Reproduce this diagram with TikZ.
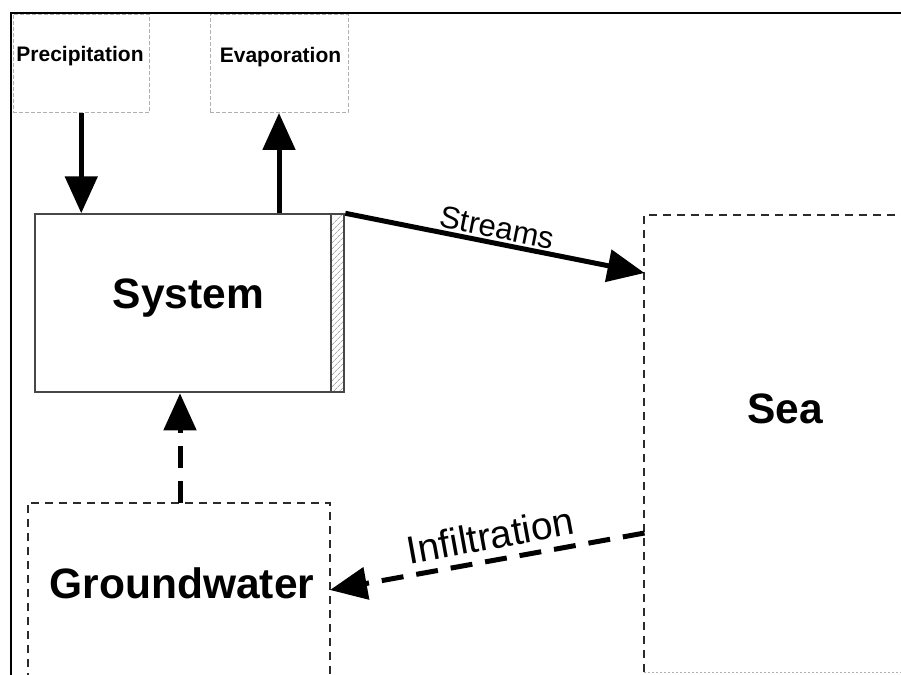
\documentclass[tikz,border=0pt]{standalone}
\usepackage{fontspec}
\setmainfont{Liberation Sans}
\usetikzlibrary{arrows.meta,patterns.meta}
\definecolor{boxgray}{HTML}{474747}
\definecolor{dashgray}{HTML}{2B2B2B}
\definecolor{faintgray}{HTML}{B0B0B0}
\tikzset{
  frameline/.style={line width=2pt,black},
  faintbox/.style={draw=faintgray,line width=0.9pt,dash pattern=on 4pt off 2pt,inner sep=0pt},
  sysbox/.style={draw=boxgray,line width=2pt,inner sep=0pt},
  darkdash/.style={draw=dashgray,line width=1.8pt,dash pattern=on 8pt off 6pt},
  faintdot/.style={draw=faintgray,line width=0.9pt,dash pattern=on 2pt off 2pt},
  flowarrow/.style={line width=5pt,black,-{Triangle[length=37pt,width=32pt]}},
  dasharrow/.style={flowarrow,dash pattern=on 22pt off 13pt},
  smalllabel/.style={font=\bfseries\fontsize{21}{25}\selectfont,anchor=base,inner sep=0pt},
  biglabel/.style={font=\bfseries\fontsize{42.5}{50}\selectfont,anchor=base,inner sep=0pt},
  flowlabel/.style={anchor=base,inner sep=0pt},
}
\begin{document}
\begin{tikzpicture}[x=1pt,y=-1pt]
\clip (0,0) rectangle (901,674);
\fill[white] (0,0) rectangle (901,674);
% outer frame
\draw[frameline] (11,680) -- (11,13) -- (910,13);
% Precipitation / Evaporation boxes
\node[faintbox,minimum width=136.5pt,minimum height=98pt] (prec) at (81.25,63.5) {};
\node[faintbox,minimum width=138pt,minimum height=98pt] (evap) at (279,63.5) {};
\node[smalllabel] (precT) at (80,62) {Precipitation};
\node[smalllabel] (evapT) at (280.5,63) {Evaporation};
% System box
\node[sysbox,minimum width=309.3pt,minimum height=178pt] (sys) at (189.65,303.3) {};
\node[sysbox,pattern={Lines[angle=45,distance=4pt,line width=0.6pt]},pattern color=gray,
      minimum width=13.6pt,minimum height=178pt] (strip) at (337.5,303.3) {};
\node[biglabel] (sysT) at (188.5,308) {System};
% Sea box
\node[minimum width=275.5pt,minimum height=457pt,inner sep=0pt] (sea) at (782.25,443.5) {};
\draw[darkdash] (sea.south west) -- (sea.north west) -- (sea.north east);
\draw[faintdot] (sea.south west) -- (sea.south east);
\node[biglabel] (seaT) at (785,423) {Sea};
% Groundwater box
\node[minimum width=302pt,minimum height=220pt,inner sep=0pt] (gw) at (179,613) {};
\draw[darkdash] (gw.south west) -- (gw.north west) -- (gw.north east) -- (gw.south east);
\node[biglabel] (gwT) at (182,598) {Groundwater};
% connector end points
\coordinate (strS) at (sys.north east);
\coordinate (strE) at (644.5,273);
\coordinate (infS) at (644.5,533);
\coordinate (infE) at (330,590);
% arrows
\draw[flowarrow] (prec.south) -- (prec.south |- sys.north);
\draw[flowarrow] (evap.south |- sys.north) -- (evap.south);
\draw[flowarrow] (strS) -- (strE);
\draw[dasharrow] (gw.north -| 180,0) -- (sys.south -| 180,0);
\draw[dasharrow] (infS) -- (infE);
% flow labels
\node[flowlabel,rotate=-11.4,font=\fontsize{31}{37}\selectfont] (strT) at (495,238) {Streams};
\node[flowlabel,rotate=10.3,font=\fontsize{39}{46}\selectfont] (infT) at (493,549) {Infiltration};
\end{tikzpicture}
\end{document}
